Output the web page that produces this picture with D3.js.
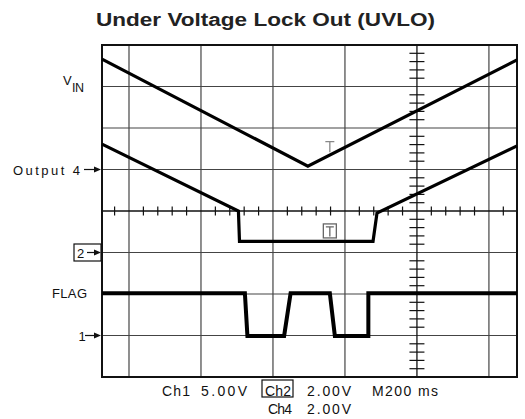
<!DOCTYPE html>
<html><head><meta charset="utf-8">
<script src="https://cdn.jsdelivr.net/npm/d3@7"></script>
<style>body{margin:0;background:#fff}svg{display:block}</style>
</head><body><svg id="c" width="525" height="419"></svg>
<script>
// ---- data (time in ms, 200 ms/div, 0 = centre graticule; level in divisions) ----
const title = "Under Voltage Lock Out (UVLO)";
const vinT  = [-875, -303, 278];
const vinV  = [3.66, 1.08, 3.64];
const outT  = [-875, -496, -493, -122, -111, 278];
const outV  = [1.61, 0.0, -0.73, -0.73, -0.05, 1.57];
const flagT = [-875, -478, -471, -369, -351, -242, -228, -135, -135, 278];
const flagV = [-1.98, -1.98, -3.01, -3.01, -1.98, -1.98, -3.01, -3.01, -1.98, -1.98];
const xGrid = [-800, -600, -400, -200, 0, 200];
const yGrid = [-3, -2, -1, 0, 1, 2, 3];
const refLevels = {out4: 1, ch2: -1, ch1: -3};
const trigT = -242, trigLevel = 1.55, trig2Level = -0.48;
const scaleLine1 = ["Ch1", "5.00V", "Ch2", "2.00V", "M200 ms"];
const scaleLine2 = ["Ch4", "2.00V"];

const svg = d3.select("#c");
const x = d3.scaleLinear().domain([-875, 278]).range([102, 517]);
const y = d3.scaleLinear().domain([-4, 4]).range([377, 45]);
const scopeFont = "'Liberation Sans', Arial, sans-serif";

// title
svg.append("text").attr("x", 96).attr("y", 26)
  .attr("font-family", scopeFont).attr("font-weight", "bold").attr("font-size", 18)
  .attr("fill", "#222").attr("textLength", 339).attr("lengthAdjust", "spacingAndGlyphs")
  .text(title);

// grid
const g = svg.append("g");
g.selectAll("line.vx").data(xGrid.filter(d => d !== 0)).join("line")
  .attr("x1", d => x(d)).attr("x2", d => x(d)).attr("y1", y(4)).attr("y2", y(-4))
  .attr("stroke", "#444").attr("stroke-width", 1.2);
g.selectAll("line.hy").data(yGrid.filter(d => d !== 0)).join("line")
  .attr("y1", d => y(d)).attr("y2", d => y(d)).attr("x1", x.range()[0]).attr("x2", x.range()[1])
  .attr("stroke", "#444").attr("stroke-width", 1.2);

// centre axes with minor ticks
g.append("line").attr("x1", x(0)).attr("x2", x(0)).attr("y1", y(4)).attr("y2", y(-4))
  .attr("stroke", "#111").attr("stroke-width", 1.3);
g.append("line").attr("y1", y(0)).attr("y2", y(0)).attr("x1", x.range()[0]).attr("x2", x.range()[1])
  .attr("stroke", "#111").attr("stroke-width", 1.3);
const xMinor = d3.range(-840, 278, 40).filter(d => d % 200 !== 0);
g.selectAll("line.xm").data(xMinor).join("line")
  .attr("x1", d => x(d)).attr("x2", d => x(d)).attr("y1", y(0) - 4.5).attr("y2", y(0) + 4.5)
  .attr("stroke", "#111").attr("stroke-width", 1.2);
const yMinor = d3.range(-19, 20).map(k => k * 0.2).filter(d => Math.abs(Math.round(d) - d) > 1e-6);
g.selectAll("line.ym").data(yMinor).join("line")
  .attr("y1", d => y(d)).attr("y2", d => y(d)).attr("x1", x(0) - 7.5).attr("x2", x(0) + 7.5)
  .attr("stroke", "#111").attr("stroke-width", 1.2);

// frame
svg.append("rect").attr("x", x.range()[0]).attr("y", y(4))
  .attr("width", x.range()[1] - x.range()[0]).attr("height", y(-4) - y(4))
  .attr("fill", "none").attr("stroke", "#111").attr("stroke-width", 2);

// trigger markers
const tg = svg.append("g").attr("stroke", "#888").attr("stroke-width", 1.3).attr("fill", "none");
const tx = x(trigT), ty = y(trigLevel);
tg.append("path").attr("d", `M${tx-4.5},${ty-5}H${tx+4.5}M${tx},${ty-5}V${ty+5.5}`);
const bx = x(trigT), by = y(trig2Level);
tg.append("rect").attr("x", bx - 6.5).attr("y", by - 7).attr("width", 13).attr("height", 14).attr("stroke", "#666");
tg.append("path").attr("d", `M${bx-4},${by-4}H${bx+4}M${bx},${by-4}V${by+5.5}`).attr("stroke", "#666");

// traces
const line = d3.line().x(d => x(d[0])).y(d => y(d[1]));
function trace(ts, vs, w) {
  svg.append("path").datum(ts.map((t, i) => [t, vs[i]])).attr("d", line)
    .attr("fill", "none").attr("stroke", "#000").attr("stroke-width", w)
    .attr("stroke-linejoin", "miter").attr("stroke-linecap", "butt");
}
trace(vinT, vinV, 3.2);
trace(outT, outV, 3.2);
trace(flagT, flagV, 4);

// left labels
function lab(txt, xx, yy, len, fs) {
  const t = svg.append("text").attr("x", xx).attr("y", yy).attr("font-family", scopeFont)
    .attr("font-size", fs || 13).attr("fill", "#111").text(txt);
  if (len) t.attr("textLength", len).attr("lengthAdjust", "spacing");
  return t;
}
function arrow(x0, yy) {
  const x1 = x.range()[0];
  svg.append("line").attr("x1", x0).attr("x2", x1 - 5).attr("y1", yy).attr("y2", yy)
    .attr("stroke", "#111").attr("stroke-width", 1.2);
  svg.append("path").attr("d", `M${x1-1},${yy}L${x1-8},${yy-3}L${x1-8},${yy+3}Z`).attr("fill", "#111");
}
lab("V", 63, 85, 9);
lab("IN", 72, 91.5, 12, 12.5);
lab("Output 4", 13, 174.5, 67);
arrow(84, y(refLevels.out4));
svg.append("rect").attr("x", 74).attr("y", y(refLevels.ch2) - 8.5).attr("width", 27).attr("height", 17)
  .attr("fill", "none").attr("stroke", "#111").attr("stroke-width", 1.2);
lab("2", 77, y(refLevels.ch2) + 5, 8);
arrow(87, y(refLevels.ch2));
lab("FLAG", 52, 297.5, 35);
lab("1", 78.5, y(refLevels.ch1) + 5.5, 5);
arrow(85, y(refLevels.ch1));

// bottom scale readout
const s1x = [[162, 28], [201, 46], [265, 26], [307, 44], [372, 66]];
scaleLine1.forEach((s, i) => lab(s, s1x[i][0], 395.5, s1x[i][1], 14));
svg.append("rect").attr("x", 262).attr("y", 380).attr("width", 31).attr("height", 17)
  .attr("fill", "none").attr("stroke", "#111").attr("stroke-width", 1.2);
const s2x = [[268, 24], [307, 44]];
scaleLine2.forEach((s, i) => lab(s, s2x[i][0], 414, s2x[i][1], 14));
</script></body></html>
